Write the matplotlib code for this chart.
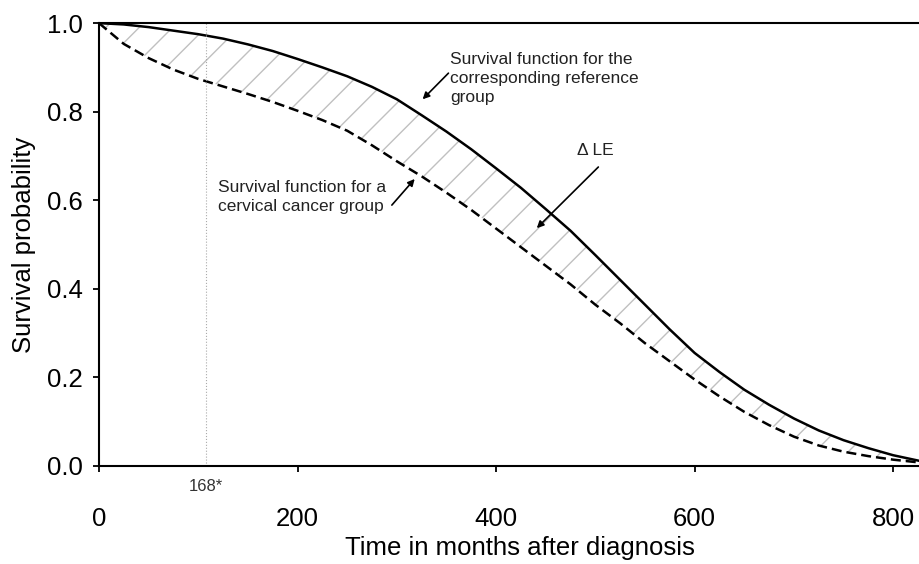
import matplotlib
matplotlib.use('Agg')
import matplotlib.pyplot as plt

plt.rcParams['font.family'] = ['Liberation Sans', 'DejaVu Sans']
plt.rcParams['hatch.linewidth'] = 1.0

# Survival curves, every 25 months
months = [0, 25, 50, 75, 100, 125, 150, 175, 200, 225, 250, 275, 300, 325,
          350, 375, 400, 425, 450, 475, 500, 525, 550, 575, 600, 625, 650,
          675, 700, 725, 750, 775, 800, 825]
reference = [1.000, 0.997, 0.991, 0.983, 0.975, 0.965, 0.952, 0.937, 0.919,
             0.900, 0.880, 0.856, 0.828, 0.792, 0.755, 0.715, 0.672, 0.628,
             0.580, 0.531, 0.476, 0.420, 0.364, 0.308, 0.255, 0.212, 0.172,
             0.138, 0.107, 0.080, 0.058, 0.040, 0.024, 0.012]
cervical = [1.000, 0.953, 0.921, 0.895, 0.874, 0.857, 0.840, 0.822, 0.802,
            0.781, 0.757, 0.724, 0.688, 0.654, 0.617, 0.578, 0.536, 0.494,
            0.452, 0.410, 0.364, 0.322, 0.277, 0.236, 0.195, 0.157, 0.122,
            0.092, 0.066, 0.046, 0.032, 0.022, 0.014, 0.008]

mark_t = 108
mark_label = '168*'

x_ticks = [0, 200, 400, 600, 800]
y_ticks = [0.0, 0.2, 0.4, 0.6, 0.8, 1.0]

fig = plt.figure(figsize=(9.2, 5.64), dpi=100)
ax = fig.add_axes([0.1076, 0.174, 0.8924, 0.785])

# hatched area between the two curves (delta LE)
ax.fill_between(months, cervical, reference, facecolor='none',
                edgecolor='#c0c0c0', hatch='/', linewidth=0)
ax.plot(months, reference, color='black', lw=1.8)
ax.plot(months, cervical, color='black', lw=1.8, ls=(0, (4, 2)))

ax.axvline(mark_t, color='#aaaaaa', lw=0.8, ls=':')
ax.text(mark_t, -0.03, mark_label, ha='center', va='top', fontsize=12,
        color='#333333')

ax.set_xlim(0, 827)
ax.set_ylim(0, 1.0)
ax.set_xticks(x_ticks)
ax.set_yticks(y_ticks)
ax.set_yticklabels([f'{v:.1f}' for v in y_ticks])
ax.tick_params(axis='both', labelsize=18.5, direction='out', length=4.5,
               width=1.3, colors='black')
ax.tick_params(axis='x', pad=25)
ax.tick_params(axis='y', pad=7)
for s in ['left', 'bottom', 'top']:
    ax.spines[s].set_linewidth(1.5)
ax.spines['right'].set_visible(False)

ax.set_xlabel('Time in months after diagnosis', fontsize=18.5, labelpad=4)
ax.xaxis.label.set_x(0.513)
ax.set_ylabel('Survival probability', fontsize=18.5, labelpad=8)

arrow = dict(arrowstyle='-|>', color='black', lw=1.2, mutation_scale=10,
             shrinkA=0, shrinkB=0)
ax.annotate('', xy=(326, 0.828), xytext=(352, 0.887), arrowprops=arrow)
ax.text(354, 0.935, 'Survival function for the\ncorresponding reference\ngroup',
        fontsize=12.5, va='top', ha='left', linespacing=1.32, color='#222222')

ax.annotate('', xy=(318, 0.648), xytext=(295, 0.589), arrowprops=arrow)
ax.text(120, 0.645, 'Survival function for a\ncervical cancer group',
        fontsize=12.5, va='top', ha='left', linespacing=1.32, color='#222222')

ax.annotate('', xy=(441, 0.537), xytext=(503, 0.675), arrowprops=arrow)
ax.text(500, 0.713, 'Δ LE', fontsize=12.5, va='center', ha='center',
        color='#222222')

fig.savefig('out.png', dpi=100)
